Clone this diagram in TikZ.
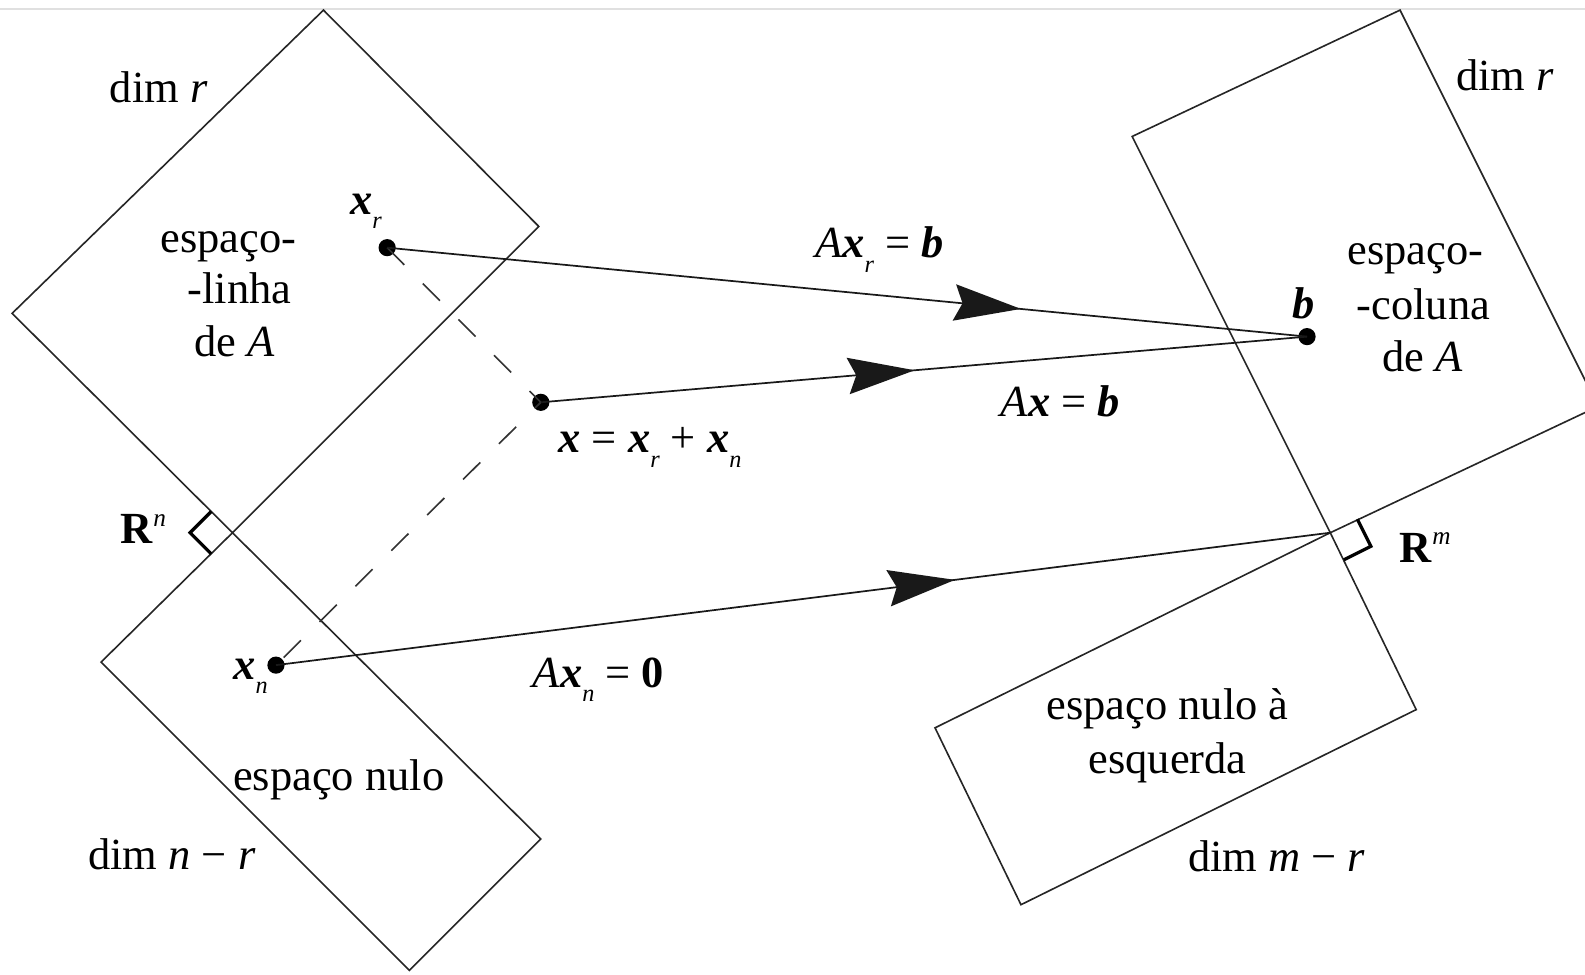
\documentclass[tikz,border=0pt]{standalone}
\usepackage{fontspec}
\setmainfont{Liberation Serif}
\usetikzlibrary{arrows.meta,decorations.markings}
\newcommand{\bx}{\textbf{\textit{x}}}
\newcommand{\bb}{\textbf{\textit{b}}}
\newcommand{\lowsub}[1]{\raisebox{-0.32em}{\fontsize{24}{24}\selectfont\itshape #1}}
\newcommand{\upsup}[1]{\raisebox{0.4em}{\fontsize{25}{25}\selectfont\itshape #1}}
\tikzset{
  plane/.style={draw=black!85, line width=1.6pt, line join=miter},
  dot/.style={circle, fill=black, inner sep=0pt, minimum size=17pt},
  lbl/.style={anchor=base, inner sep=0pt},
  ortho/.style={draw=black, line width=3.2pt, line join=miter},
  proj/.style={draw=black!80, line width=1.6pt, dash pattern=on 24pt off 26pt},
  map/.style={draw=black!90, line width=1.7pt, postaction={decorate},
    decoration={markings, mark=at position #1 with {\arrow{Stealth[length=66pt,width=36pt,inset=8pt]}}}}
}
\begin{document}
\begin{tikzpicture}[x=1pt,y=-1pt,font=\fontsize{44}{52}\selectfont]
\useasboundingbox (0,0) rectangle (1568,964);
\clip (0,0) rectangle (1568,964);
\draw[black!12, line width=1.5pt] (0,9) -- (1568,9);

% left: R^n
\coordinate (O1) at (230,527);
\coordinate (RL) at (12,310);
\coordinate (RT) at (320,10);
\coordinate (RR) at (533,224);
\coordinate (NL) at (100,655);
\coordinate (NB) at (405,960);
\coordinate (NR) at (535,830);
\draw[plane] (O1) -- (RL) -- (RT) -- (RR) -- cycle;
\draw[plane] (O1) -- (NL) -- (NB) -- (NR) -- cycle;
\draw[ortho] (O1) ++(-21,-21) -- ++(-21,21) -- ++(21,21);

% right: R^m
\coordinate (O2) at (1316,527);
\coordinate (CL) at (1120,135);
\coordinate (CT) at (1385,10);
\coordinate (CR) at (1581,402);
\coordinate (LL) at (925,720);
\coordinate (LB) at (1010,895);
\coordinate (LR) at (1401,702);
\draw[plane] (O2) -- (CL) -- (CT) -- (CR) -- cycle;
\draw[plane] (O2) -- (LL) -- (LB) -- (LR) -- cycle;
\draw[ortho] (O2) ++(26.8,-13.4) -- ++(13.4,26.8) -- ++(-26.8,13.4);

% points
\node[dot] (xr) at (383,245) {};
\node[dot] (x) at (535,398) {};
\node[dot] (xn) at (273,658) {};
\node[dot] (b) at (1293,333) {};

% projections
\draw[proj] (xr.center) -- (x.center) -- (xn.center);

% mappings
\draw[map=0.689] (xr.center) -- (b.center);
\draw[map=0.488] (x.center) -- (b.center);
\draw[map=0.644] (xn.center) -- (O2);

% labels
\node[lbl] (dimr1) at (157,101) {dim \textit{r}};
\node[lbl] (rs1) at (226,250) {espaço-};
\node[lbl] (rs2) at (237,300) {-linha};
\node[lbl] (rs3) at (232,353) {de \textit{A}};
\node[lbl] (lxr) at (362,212) {\bx\lowsub{r}};
\node[lbl] (lAxr) at (870,255) {\textit{A}\bx\lowsub{r} = \bb};
\node[lbl] (lb) at (1290,315) {\bb};
\node[lbl] (cs1) at (1400,262) {espaço-};
\node[lbl] (cs2) at (1408,316) {-coluna};
\node[lbl] (cs3) at (1407,368) {de \textit{A}};
\node[lbl] (dimr2) at (1489,90) {dim \textit{r}};
\node[lbl] (lAx) at (1049,412) {\textit{A}\bx\ = \bb};
\node[lbl] (lx) at (643,448) {\bx\ = \bx\lowsub{r} + \bx\lowsub{n}};
\node[lbl] (Rn) at (142,538) {\textbf{R}\upsup{n}};
\node[lbl] (Rm) at (1410,556) {\textbf{R}\upsup{m}};
\node[lbl] (lxn) at (248,672) {\bx\lowsub{n}};
\node[lbl] (lAxn) at (592,680) {\textit{A}\bx\lowsub{n} = \textbf{0}};
\node[lbl] (ns) at (335,782) {espaço nulo};
\node[lbl] (dimnr) at (170,860) {dim \textit{n} − \textit{r}};
\node[lbl] (lns1) at (1155,712) {espaço nulo à};
\node[lbl] (lns2) at (1155,765) {esquerda};
\node[lbl] (dimmr) at (1263,862) {dim \textit{m} − \textit{r}};
\end{tikzpicture}
\end{document}
